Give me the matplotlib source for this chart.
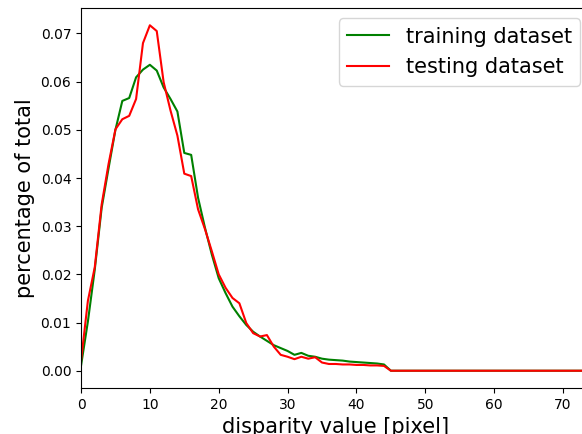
import matplotlib
matplotlib.use("Agg")
import matplotlib.pyplot as plt
import numpy as np

disparity = list(range(0, 81))

training = [0.0010, 0.0102, 0.0210, 0.0338, 0.0420, 0.0500, 0.0560, 0.0566, 0.0609, 0.0625,
            0.0635, 0.0623, 0.0588, 0.0564, 0.0538, 0.0452, 0.0448, 0.0359, 0.0297, 0.0241,
            0.0192, 0.0161, 0.0133, 0.0113, 0.0095, 0.0081, 0.0071, 0.0062, 0.0053, 0.0047,
            0.0041, 0.0033, 0.0037, 0.0031, 0.0029, 0.0025, 0.0023, 0.0022, 0.0021, 0.0019,
            0.0018, 0.0017, 0.0016, 0.0015, 0.0013] + [0.0] * 36

testing = [0.0020, 0.0145, 0.0215, 0.0345, 0.0429, 0.0501, 0.0522, 0.0529, 0.0564, 0.0680,
           0.0717, 0.0705, 0.0599, 0.0540, 0.0488, 0.0409, 0.0404, 0.0335, 0.0294, 0.0248,
           0.0200, 0.0172, 0.0151, 0.0140, 0.0099, 0.0078, 0.0071, 0.0074, 0.0050, 0.0033,
           0.0029, 0.0024, 0.0029, 0.0025, 0.0028, 0.0017, 0.0014, 0.0014, 0.0013, 0.0013,
           0.0012, 0.0012, 0.0011, 0.0011, 0.0010] + [0.0] * 36

fig = plt.figure(figsize=(5.82, 4.34), dpi=100)
ax = fig.add_axes([81 / 582, 46 / 434, (74 * 6.886) / 582, 380 / 434])
ax.plot(disparity, training, color="green", label="training dataset")
ax.plot(disparity, testing, color="red", label="testing dataset")
ax.set_xlim(0, 74)
ax.set_xticks([0, 10, 20, 30, 40, 50, 60, 70])
ax.set_yticks([0.0, 0.01, 0.02, 0.03, 0.04, 0.05, 0.06, 0.07])
ax.set_xlabel("disparity value [pixel]", fontsize=15)
ax.set_ylabel("percentage of total", fontsize=15)
ax.legend(loc="upper right", fontsize=15)
fig.savefig("out.png", dpi=100)
